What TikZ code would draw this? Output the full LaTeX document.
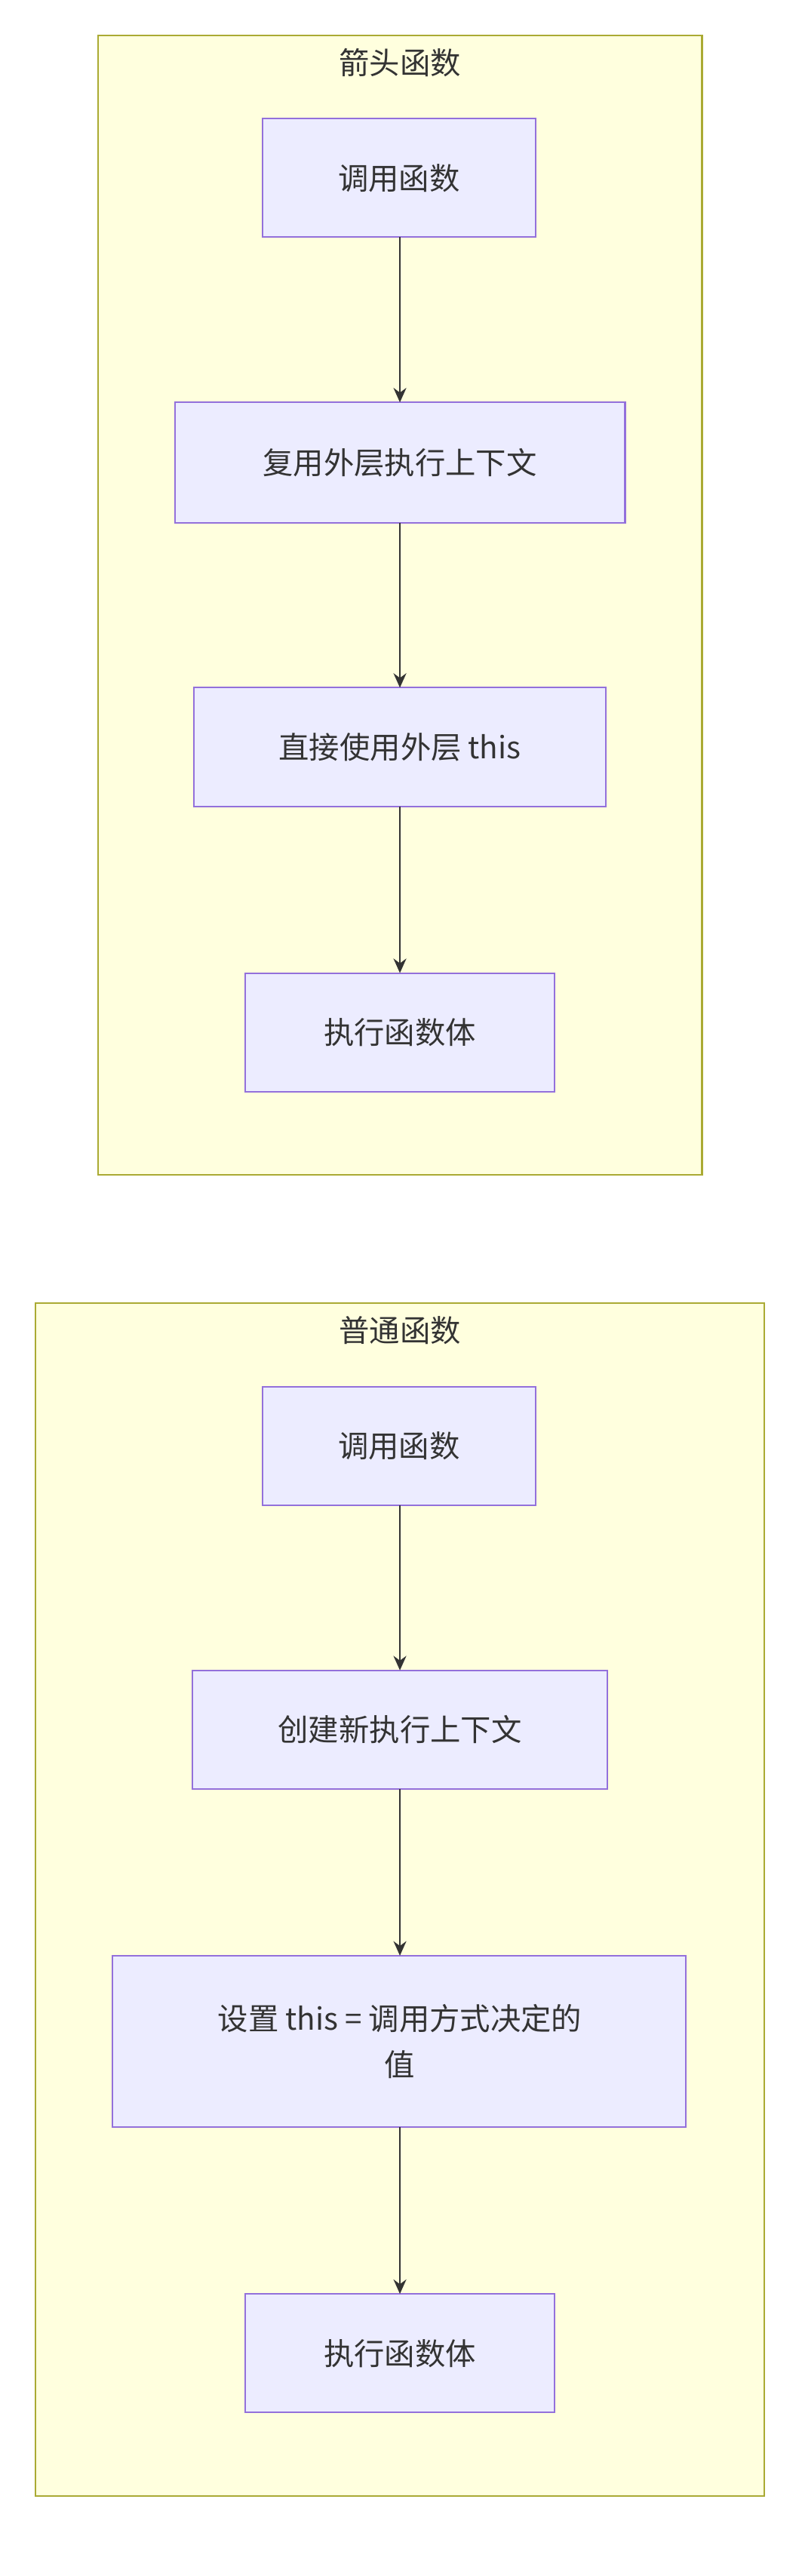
\documentclass[tikz,border=0pt]{standalone}
\usepackage{fontspec}
\setmainfont{Noto Sans CJK SC}
\usetikzlibrary{arrows.meta}
\definecolor{clfill}{HTML}{FFFFDE}
\definecolor{cldraw}{HTML}{AAAA33}
\definecolor{nfill}{HTML}{ECECFF}
\definecolor{ndraw}{HTML}{9370DB}
\definecolor{edge}{HTML}{333333}
\begin{document}
\begin{tikzpicture}[x=1pt,y=-1pt,
  cluster/.style={draw=cldraw,fill=clfill,line width=1pt},
  box/.style={draw=ndraw,fill=nfill,line width=1pt,text=edge,font=\fontsize{19}{29}\selectfont},
  ttl/.style={text=edge,font=\fontsize{19}{24}\selectfont},
  arr/.style={draw=edge,line width=1.3pt,-{Stealth[length=9pt,width=8pt]}}]
\useasboundingbox (0,0) rectangle (500,1607);
\fill[white] (0,0) rectangle (500,1607);
% cluster 1
\draw[cluster] (61,22) rectangle (438,733);
\node[ttl] (t1) at (249.5,39) {箭头函数};
\path[box] (164,74) rectangle (334,148); \node[box,draw=none,fill=none] (a1) at (249,111) {调用函数};
\path[box] (109,251) rectangle (390,326); \node[box,draw=none,fill=none] (a2) at (249.5,288.5) {复用外层执行上下文};
\path[box] (121,429) rectangle (378,503); \node[box,draw=none,fill=none] (a3) at (249.5,466) {直接使用外层 this};
\path[box] (153,607) rectangle (346,681); \node[box,draw=none,fill=none] (a4) at (249.5,644) {执行函数体};
\coordinate (a1b) at (249.5,148); \coordinate (a2t) at (249.5,251);
\coordinate (a2b) at (249.5,326); \coordinate (a3t) at (249.5,429);
\coordinate (a3b) at (249.5,503); \coordinate (a4t) at (249.5,607);
\draw[arr] (a1b) -- (a2t);
\draw[arr] (a2b) -- (a3t);
\draw[arr] (a3b) -- (a4t);
% cluster 2
\draw[cluster] (22,813) rectangle (477,1557);
\node[ttl] (t2) at (249.5,830) {普通函数};
\path[box] (164,865) rectangle (334,939); \node[box,draw=none,fill=none] (b1) at (249,902) {调用函数};
\path[box] (120,1042) rectangle (379,1116); \node[box,draw=none,fill=none] (b2) at (249.5,1079) {创建新执行上下文};
\path[box] (70,1220) rectangle (428,1327); \node[box,draw=none,fill=none,align=center] (b3) at (249.5,1273.5) {设置 this = 调用方式决定的\\值};
\path[box] (153,1431) rectangle (346,1505); \node[box,draw=none,fill=none] (b4) at (249.5,1468) {执行函数体};
\coordinate (b1b) at (249.5,939); \coordinate (b2t) at (249.5,1042);
\coordinate (b2b) at (249.5,1116); \coordinate (b3t) at (249.5,1220);
\coordinate (b3b) at (249.5,1327); \coordinate (b4t) at (249.5,1431);
\draw[arr] (b1b) -- (b2t);
\draw[arr] (b2b) -- (b3t);
\draw[arr] (b3b) -- (b4t);
\end{tikzpicture}
\end{document}
